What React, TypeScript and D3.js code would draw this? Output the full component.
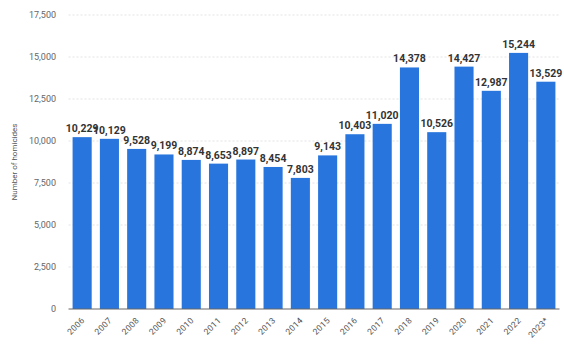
import React from "react";
import * as d3 from "d3";

const years = ["2006","2007","2008","2009","2010","2011","2012","2013","2014","2015","2016","2017","2018","2019","2020","2021","2022","2023*"];
const homicides = [10229,10129,9528,9199,8874,8653,8897,8454,7803,9143,10403,11020,14378,10526,14427,12987,15244,13529];
const yTicks = [0,2500,5000,7500,10000,12500,15000,17500];

const W = 564, H = 360;
const left = 68.5, right = 559.5, top = 15, bottom = 309;

export default function App() {
  const x = d3.scaleBand<string>().domain(years).range([left, right]).paddingInner(0.3).paddingOuter(0.15);
  const y = d3.scaleLinear().domain([0, 17500]).range([bottom, top]);
  const fmt = d3.format(",");
  const font = "Roboto, 'Noto Sans', sans-serif";
  return (
    <svg width={W} height={H} style={{ position: "absolute", left: 0, top: 0, background: "#fff" }} fontFamily={font}>
      {yTicks.map(t => (
        <g key={t}>
          {t > 0 && <line x1={left} x2={right} y1={y(t)} y2={y(t)} stroke="#dcdcdc" strokeWidth={0.8} strokeDasharray="2,2" />}
          <text x={56} y={y(t)} dy="0.35em" textAnchor="end" fontSize={9} fill="#666">{fmt(t)}</text>
        </g>
      ))}
      <text transform={`translate(17,${(top + bottom) / 2}) rotate(-90)`} textAnchor="middle" fontSize={8} fill="#555">Number of homicides</text>
      {years.map((yr, i) => (
        <rect key={yr} x={x(yr)} y={y(homicides[i])} width={x.bandwidth()} height={bottom - y(homicides[i])} fill="#2876dd" />
      ))}
      <line x1={left} x2={right} y1={bottom} y2={bottom} stroke="#666" strokeWidth={1} />
      {years.map((yr, i) => (
        <text key={"v" + yr} x={(x(yr) as number) + x.bandwidth() / 2} y={y(homicides[i]) - 5} textAnchor="middle" fontSize={10.5} fontWeight="bold" fill="#333">{fmt(homicides[i])}</text>
      ))}
      {years.map(yr => {
        const cx = (x(yr) as number) + x.bandwidth() / 2 + 3;
        return (
          <text key={"t" + yr} transform={`translate(${cx},${bottom + 12}) rotate(-45)`} textAnchor="end" fontSize={8.5} fill="#555" letterSpacing={0.3}>{yr}</text>
        );
      })}
    </svg>
  );
}
